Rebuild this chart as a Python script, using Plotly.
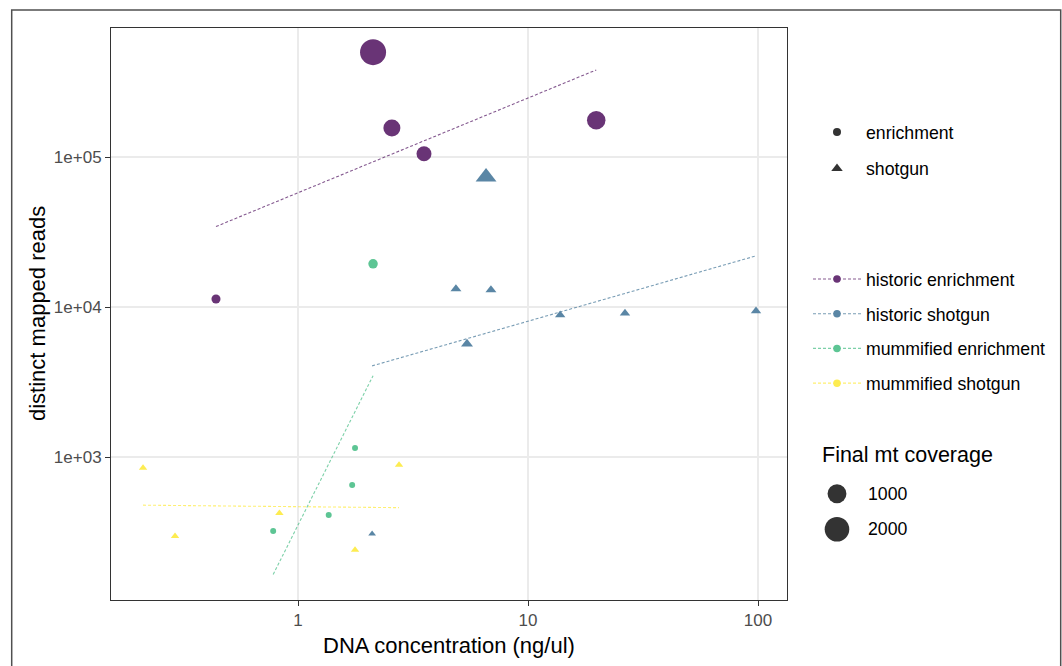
import numpy as np
import plotly.graph_objects as go

# ---------------- data ----------------
groups = ["historic enrichment", "historic shotgun", "mummified enrichment", "mummified shotgun"]
methods = ["enrichment", "shotgun"]

he_x = [2.12, 2.56, 3.53, 19.8, 0.44]
he_y = [500000, 156000, 105000, 176000, 11300]
he_cov = [2300, 750, 520, 950, 85]

hs_x = [6.57, 4.86, 6.9, 5.43, 13.8, 26.4, 98, 2.1]
hs_y = [73600, 13200, 13000, 5670, 8850, 9100, 9400, 307]
hs_cov = [368, 22, 22, 38, 15, 15, 15, 0]

me_x = [2.12, 1.77, 1.72, 1.36, 0.78]
me_y = [19400, 1150, 650, 410, 321]
me_cov = [105, 5, 5, 5, 5]

ms_x = [0.212, 0.292, 0.83, 1.77, 2.75]
ms_y = [845, 297, 423, 240, 885]
ms_cov = [1, 1, 1, 1, 1]

size_legend_vals = [1000, 2000]
x_ticks = [1, 10, 100]
x_ticktext = ["1", "10", "100"]
y_ticks = [1000, 10000, 100000]
y_ticktext = ["1e+03", "1e+04", "1e+05"]

# ---------------- styling ----------------
FONT = "Liberation Sans, Arial, sans-serif"
viridis = ["#440154", "#31688E", "#35B779", "#FDE725"]


def blend(hexc, a):
    """colour at alpha a over white, as solid hex"""
    h = hexc.lstrip("#")
    c = [int(h[i:i + 2], 16) for i in (0, 2, 4)]
    c = [round(a * v + (1 - a) * 255) for v in c]
    return "#%02x%02x%02x" % tuple(c)


def rgba(hexc, a):
    h = hexc.lstrip("#")
    r, g, b = int(h[0:2], 16), int(h[2:4], 16), int(h[4:6], 16)
    return f"rgba({r},{g},{b},{a})"


COV_MAX = 2300.0


def size_px(v):
    v = np.asarray(v, dtype=float)
    return 5 + 21 * np.sqrt(np.clip(v, 0, None) / COV_MAX)


TRI = 1.35  # plotly triangle sizing factor

W, H = 1062, 666
L, R, T, B = 111, 0, 28, 66
PW = W - L - R
PH = H - T - B
PANEL_R = 787


def px(xp):
    return (xp - L) / PW


def py(yp):
    return (H - B - yp) / PH


series = [
    (groups[0], he_x, he_y, he_cov, "circle", viridis[0]),
    (groups[1], hs_x, hs_y, hs_cov, "triangle-up", viridis[1]),
    (groups[2], me_x, me_y, me_cov, "circle", viridis[2]),
    (groups[3], ms_x, ms_y, ms_cov, "triangle-up", viridis[3]),
]

fig = go.Figure()

# fitted lines (log-log linear regression, over each group's x range)
for name, xs, ys, cov, sym, col in series:
    lx, ly = np.log10(xs), np.log10(ys)
    slope, icpt = np.polyfit(lx, ly, 1)
    gx = np.linspace(lx.min(), lx.max(), 60)
    fig.add_trace(go.Scatter(
        x=10 ** gx, y=10 ** (icpt + slope * gx), mode="lines",
        line=dict(color=rgba(col, 0.65), width=1.1, dash="3px,2px"),
        showlegend=False, hoverinfo="skip"))

# points
for name, xs, ys, cov, sym, col in series:
    s = size_px(cov)
    if sym.startswith("triangle"):
        s = s * TRI
    fig.add_trace(go.Scatter(
        x=xs, y=ys, mode="markers",
        marker=dict(symbol=sym, size=s, color=blend(col, 0.8), opacity=1,
                    line=dict(width=0)),
        showlegend=False, name=name))

# legend 1: shape
for i, (m, sym) in enumerate(zip(methods, ["circle", "triangle-up"])):
    fig.add_trace(go.Scatter(
        x=[None], y=[None], mode="markers", name=m, legend="legend",
        legendgroup="m" + str(i),
        marker=dict(symbol=sym, size=8 if sym == "circle" else 10, color="#333333",
                    opacity=1)))

# legend 2: colour / linetype
for i, (name, xs, ys, cov, sym, col) in enumerate(series):
    fig.add_trace(go.Scatter(
        x=[None], y=[None], mode="lines+markers", name=name, legend="legend2",
        legendgroup="g" + str(i),
        line=dict(color=rgba(col, 0.65), width=1.1, dash="3px,2px"),
        marker=dict(symbol="circle", size=7.5, color=blend(col, 0.8), opacity=1)))

# size legend (drawn on an auxiliary axis)
fig.add_trace(go.Scatter(
    x=[0] * len(size_legend_vals), y=[str(v) for v in size_legend_vals],
    xaxis="x2", yaxis="y2", mode="markers",
    marker=dict(size=size_px(size_legend_vals), color="#333333", opacity=1,
                line=dict(width=0)),
    showlegend=False, hoverinfo="skip"))

legend_common = dict(
    bgcolor="rgba(0,0,0,0)", borderwidth=0, xanchor="left", yanchor="top",
    font=dict(family=FONT, size=17.7, color="#000000"), traceorder="grouped",
    itemwidth=48)

annotations = [
    dict(text="DNA concentration (ng/ul)", x=px((L + PANEL_R) / 2), y=py(645),
         xref="paper", yref="paper", showarrow=False, xanchor="center", yanchor="middle",
         font=dict(family=FONT, size=22, color="#000000")),
    dict(text="distinct mapped reads", x=px(37), y=0.5, textangle=-90,
         xref="paper", yref="paper", showarrow=False, xanchor="center", yanchor="middle",
         font=dict(family=FONT, size=22, color="#000000")),
    dict(text="Final mt coverage", x=px(820), y=py(455), xref="paper", yref="paper",
         showarrow=False, xanchor="left", yanchor="middle",
         font=dict(family=FONT, size=21.5, color="#000000")),
]
for i, v in enumerate(size_legend_vals):
    annotations.append(dict(text=str(v), x=px(866), y=i, xref="paper", yref="y2",
                            showarrow=False, xanchor="left", yanchor="middle",
                            font=dict(family=FONT, size=17.7, color="#000000")))

fig.update_layout(
    width=W, height=H, margin=dict(l=L, r=R, t=T, b=B),
    paper_bgcolor="#ffffff", plot_bgcolor="#ffffff",
    font=dict(family=FONT, size=17, color="#4D4D4D"),
    xaxis=dict(type="log", domain=[0, (PANEL_R - L) / PW],
               range=[-0.813, 2.126], tickvals=x_ticks, ticktext=x_ticktext,
               ticks="outside", ticklen=5, tickwidth=1, tickcolor="#333333",
               showline=True, linecolor="#333333", linewidth=1, mirror=True,
               showgrid=True, gridcolor="#EBEBEB", gridwidth=2, zeroline=False,
               tickfont=dict(family=FONT, size=17, color="#4D4D4D")),
    yaxis=dict(type="log", range=[2.0467, 5.86], tickvals=y_ticks, ticktext=y_ticktext,
               ticks="outside", ticklen=5, tickwidth=1, tickcolor="#333333",
               showline=True, linecolor="#333333", linewidth=1, mirror=True,
               showgrid=True, gridcolor="#EBEBEB", gridwidth=2.2, zeroline=False,
               tickfont=dict(family=FONT, size=17, color="#4D4D4D")),
    xaxis2=dict(domain=[px(817), px(857)], range=[-1, 1], visible=False, anchor="y2",
                fixedrange=True),
    yaxis2=dict(domain=[py(547), py(476)], type="category",
                categoryarray=[str(v) for v in size_legend_vals],
                range=[1.5, -0.5], visible=False, anchor="x2", fixedrange=True),
    legend=dict(x=px(808), y=py(114), tracegroupgap=10.5, **legend_common),
    legend2=dict(x=px(808), y=py(261), tracegroupgap=8.7, **legend_common),
    annotations=annotations,
    shapes=[dict(type="rect", xref="paper", yref="paper",
                 x0=px(11.7), x1=px(1060.7), y0=-0.3, y1=py(10),
                 line=dict(color="#505050", width=1.5), fillcolor="rgba(0,0,0,0)",
                 layer="above")],
)

fig.write_html("out.html")
